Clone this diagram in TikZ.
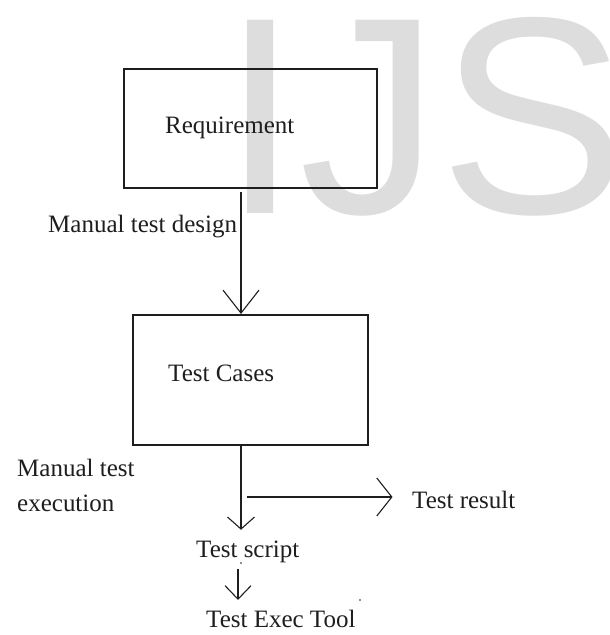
\documentclass[tikz,border=0pt]{standalone}
\usepackage{fontspec}
\setmainfont{Liberation Serif}
\newfontfamily\wmfont{Liberation Sans}
\usetikzlibrary{arrows.meta}
\definecolor{ink}{HTML}{1E1E1E}
\definecolor{wmgray}{HTML}{DDDDDD}
\tikzset{
  x=1pt, y=-1pt,
  box/.style={draw=ink, line width=1.5pt, rectangle, inner sep=0pt, anchor=north west},
  lbl/.style={inner sep=0pt, anchor=base west, font=\fontsize{25}{30}\selectfont, text=ink},
  flow/.style={draw=ink, line width=1.4pt},
}
\begin{document}
\begin{tikzpicture}
\useasboundingbox (0,0) rectangle (610,635);
% background watermark
\node[inner sep=0pt, anchor=base west, text=wmgray,
      font=\wmfont\fontsize{281}{281}\selectfont] (wm) at (221,213) {IJS};

% boxes
\node[box, minimum width=253pt, minimum height=119pt] (req) at (123,68) {};
\node[box, minimum width=235pt, minimum height=130pt] (tc) at (132,314) {};

% texts
\node[lbl] (reqtext) at (165,133) {Requirement};
\node[lbl] (tctext) at (168,381) {Test Cases};
\node[lbl] (design) at (48,232) {Manual test design};
\node[lbl] (exec1) at (17,476) {Manual test};
\node[lbl] (exec2) at (17,511) {execution};
\node[lbl] (result) at (412,508) {Test result};
\node[lbl] (script) at (196,557) {Test script};
\node[lbl] (tool) at (206,627) {Test Exec Tool};

% guide coordinates for the vertical connectors
\coordinate (ax) at (241,0);
\coordinate (bx) at (238,0);
\coordinate (branch) at (241,497);

% connectors
\draw[flow, shorten <=3pt,
      -{Straight Barb[length=23pt, width=36pt, line width=1.1pt]}]
  (ax |- req.south) -- (ax |- tc.north);
\draw[flow, shorten >=10.5pt,
      -{Straight Barb[length=12pt, width=27pt, line width=1.1pt]}]
  (ax |- tc.south) -- (ax |- script.north);
\draw[flow, shorten <=6pt, shorten >=19.5pt,
      -{Straight Barb[length=15pt, width=38pt, line width=1.1pt]}]
  (branch) -- (branch -| result.west);
\draw[flow, line width=1.1pt, shorten <=6.5pt, shorten >=9.5pt,
      -{Straight Barb[length=13.5pt, width=26pt, line width=1.1pt]}]
  (bx |- script.south) -- (bx |- tool.north);

% small specks
\fill[ink] (241,563) circle (0.9);
\fill[ink] (360,600) circle (0.9);
\end{tikzpicture}
\end{document}
